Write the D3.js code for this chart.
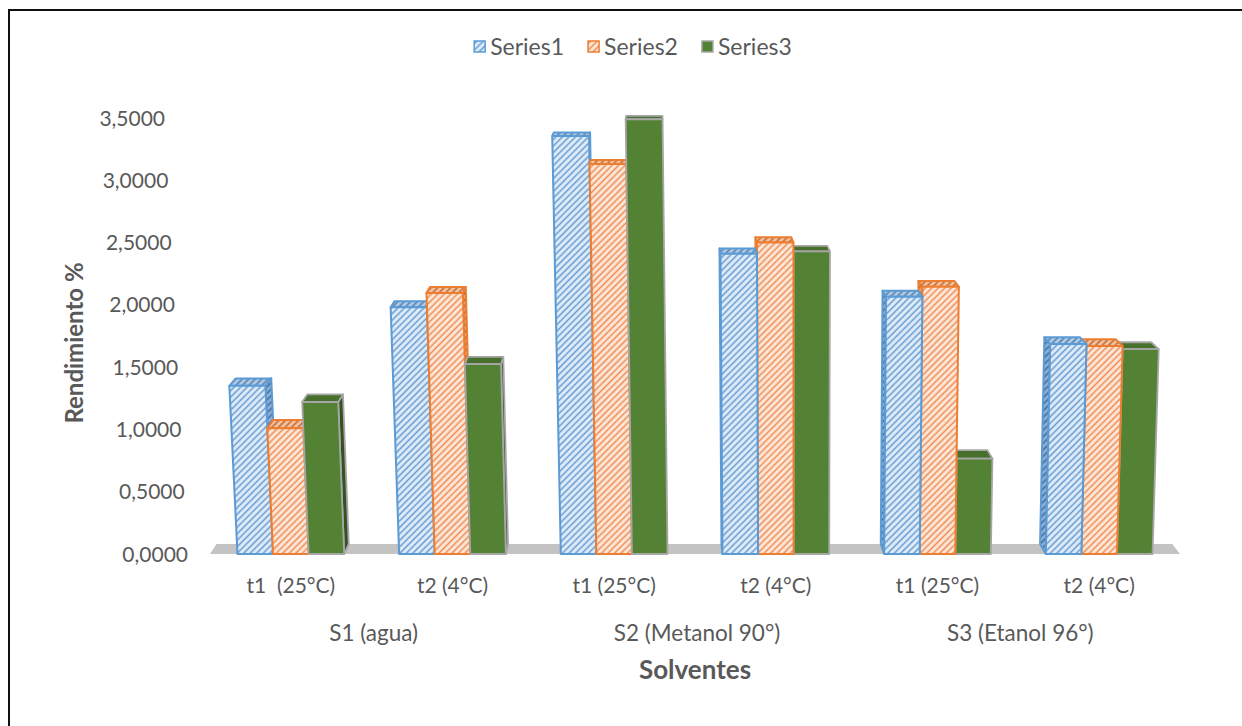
<!DOCTYPE html>
<html>
<head>
<meta charset="utf-8">
<script src="https://cdn.jsdelivr.net/npm/d3@7"></script>
<style>
  html, body { margin: 0; padding: 0; background: #ffffff; }
  svg { display: block; }
  text { font-family: Lato, "Open Sans", sans-serif; fill: #595959; }
</style>
</head>
<body>
<svg id="chart" width="1242" height="726"></svg>
<script>
// Subcategories (time / temperature) and their solvent groups
const categories = ["t1  (25°C)", "t2 (4°C)", "t1 (25°C)", "t2 (4°C)", "t1 (25°C)", "t2 (4°C)"];
const groupLabels = ["S1 (agua)", "S2 (Metanol 90°)", "S3 (Etanol 96°)"];
const seriesNames = ["Series1", "Series2", "Series3"];

// Rendimiento % per subcategory
const series1 = [1.350, 1.980, 3.355, 2.410, 2.065, 1.685];
const series2 = [1.010, 2.095, 3.130, 2.500, 2.145, 1.670];
const series3 = [1.220, 1.525, 3.490, 2.430, 0.765, 1.645];

const yTicks = [0, 0.5, 1, 1.5, 2, 2.5, 3, 3.5];

const allSeries = [series1, series2, series3];

const svg = d3.select("#chart");

// ---- perspective helpers -------------------------------------------------
const BASE_Y = 554;                 // front edge of the floor
const VP = { x: 663, y: -93 };      // vanishing point for depth
const DEPTH = 0.0155;               // shrink factor for full depth
const TILT_X = 800, TILT = 8.6e-5;  // slight convergence of vertical edges

function proj(x, y, z) {
  const k = 1 - DEPTH * z;
  let X = VP.x + (x - VP.x) * k;
  const Y = VP.y + (y - VP.y) * k;
  X = X + (X - TILT_X) * TILT * (BASE_Y - Y);
  return [X, Y];
}
const poly = pts => "M" + pts.map(p => proj(p[0], p[1], p[2]).join(",")).join("L") + "Z";

// ---- scales --------------------------------------------------------------
const x0 = d3.scaleBand().domain(d3.range(categories.length)).range([210, 1180])
  .paddingInner(0.34).paddingOuter(0.17);
const x1 = d3.scaleBand().domain(d3.range(seriesNames.length)).range([0, x0.bandwidth()]);
const y = d3.scaleLinear().domain([0, 3.5]).range([BASE_Y, 118]);

// ---- patterns ------------------------------------------------------------
const defs = svg.append("defs");
function hatch(id, bg, line, w) {
  const p = defs.append("pattern").attr("id", id)
    .attr("patternUnits", "userSpaceOnUse").attr("width", 4.6).attr("height", 4.6)
    .attr("patternTransform", "rotate(45)");
  p.append("rect").attr("width", 4.6).attr("height", 4.6).attr("fill", bg);
  p.append("line").attr("x1", 2.3).attr("y1", 0).attr("x2", 2.3).attr("y2", 4.6)
    .attr("stroke", line).attr("stroke-width", w);
}
hatch("b-front", "#e1edf9", "#6399d0", 1.5);
hatch("b-top", "#b3cbe5", "#4f7fb0", 1.6);
hatch("b-side", "#8fb0d4", "#3f6c9e", 1.6);
hatch("o-front", "#fde8da", "#ee8a50", 1.5);
hatch("o-top", "#f2c6a6", "#c4662a", 1.6);
hatch("o-side", "#e6a97f", "#b25a22", 1.6);

const styles = [
  { front: "url(#b-front)", top: "url(#b-top)", side: "url(#b-side)", stroke: "#5b9bd5", sw: 2 },
  { front: "url(#o-front)", top: "url(#o-top)", side: "url(#o-side)", stroke: "#ed7d31", sw: 2 },
  { front: "#548235", top: "#46702c", side: "#34521f", stroke: "#a6a6a6", sw: 1.8 }
];

// ---- outer frame -----------------------------------------------------------
svg.append("path").attr("d", "M9,900V10H1400").attr("fill", "none")
  .attr("stroke", "#111").attr("stroke-width", 2);

// ---- floor -----------------------------------------------------------------
const [fx0, fx1] = x0.range();
svg.append("path")
  .attr("d", poly([[fx0, BASE_Y, 0], [fx1, BASE_Y, 0], [fx1, BASE_Y, 1], [fx0, BASE_Y, 1]]))
  .attr("fill", "#c3c3c3");

// ---- bars ------------------------------------------------------------------
const bars = [];
categories.forEach((c, i) => {
  allSeries.forEach((s, j) => {
    const xl = x0(i) + x1(j), xr = xl + x1.bandwidth();
    bars.push({ i, j, xl, xr, yt: y(s[i]), yb: y(0), cx: (xl + xr) / 2 });
  });
});
bars.sort((a, b) => Math.abs(b.cx - VP.x) - Math.abs(a.cx - VP.x));

const barG = svg.append("g");
bars.forEach(b => {
  const st = styles[b.j];
  const g = barG.append("g").attr("stroke", st.stroke).attr("stroke-width", st.sw)
    .attr("stroke-linejoin", "round");
  if (b.xr < VP.x) {
    g.append("path").attr("fill", st.side)
      .attr("d", poly([[b.xr, b.yt, 0], [b.xr, b.yt, 1], [b.xr, b.yb, 1], [b.xr, b.yb, 0]]));
  }
  if (b.xl > VP.x) {
    g.append("path").attr("fill", st.side)
      .attr("d", poly([[b.xl, b.yt, 0], [b.xl, b.yt, 1], [b.xl, b.yb, 1], [b.xl, b.yb, 0]]));
  }
  g.append("path").attr("fill", st.top)
    .attr("d", poly([[b.xl, b.yt, 0], [b.xr, b.yt, 0], [b.xr, b.yt, 1], [b.xl, b.yt, 1]]));
  g.append("path").attr("fill", st.front)
    .attr("d", poly([[b.xl, b.yt, 0], [b.xr, b.yt, 0], [b.xr, b.yb, 0], [b.xl, b.yb, 0]]));
});

// ---- value axis --------------------------------------------------------------
const fmt = d3.formatLocale({ decimal: ",", thousands: ".", grouping: [3], currency: ["", ""] }).format(".4f");
const AXIS_X = 188;
const yAxis = svg.append("g")
  .call(d3.axisLeft(y).tickValues(yTicks).tickSize(0).tickPadding(0).tickFormat(fmt));
yAxis.select(".domain").remove();
yAxis.selectAll(".tick")
  .attr("transform", d => `translate(${proj(AXIS_X, y(d), 0)[0]},${y(d)})`);
yAxis.selectAll(".tick text")
  .attr("fill", "#595959").style("font-family", "Lato, sans-serif").style("font-size", "21px")
  .attr("dy", "0.36em");

// ---- category labels -------------------------------------------------------
svg.append("g").selectAll("text").data(categories).join("text")
  .attr("x", (d, i) => x0(i) + x0.bandwidth() / 2)
  .attr("y", 593)
  .attr("text-anchor", "middle")
  .style("white-space", "pre")
  .style("font-size", "21px")
  .text(d => d);

svg.append("g").selectAll("text").data(groupLabels).join("text")
  .attr("x", (d, g) => (x0(2 * g) + x0(2 * g + 1) + x0.bandwidth()) / 2 + 2)
  .attr("y", 641)
  .attr("text-anchor", "middle")
  .style("font-size", "22.5px")
  .text(d => d);

// ---- axis titles -----------------------------------------------------------
svg.append("text")
  .attr("x", 695).attr("y", 679)
  .attr("text-anchor", "middle")
  .style("font-size", "26px").style("font-weight", "bold")
  .text("Solventes");

svg.append("text")
  .attr("transform", "translate(83,343) rotate(-90)")
  .attr("text-anchor", "middle")
  .style("font-size", "24px").style("font-weight", "bold")
  .text("Rendimiento %");

// ---- legend ----------------------------------------------------------------
const legend = svg.append("g");
const items = legend.selectAll("g").data(seriesNames).join("g");
items.append("rect")
  .attr("width", 11).attr("height", 11).attr("y", -6)
  .attr("fill", (d, j) => styles[j].front)
  .attr("stroke", (d, j) => styles[j].stroke).attr("stroke-width", 1.5);
items.append("text")
  .attr("x", 16).attr("dy", "0.36em")
  .style("font-size", "23px")
  .text(d => d);
let cursor = 0;
items.each(function () {
  d3.select(this).attr("transform", `translate(${cursor},47)`);
  cursor += this.getBBox().width + 24;
});
const legendWidth = cursor - 24;
legend.attr("transform", `translate(${633 - legendWidth / 2},0)`);
</script>
</body>
</html>
